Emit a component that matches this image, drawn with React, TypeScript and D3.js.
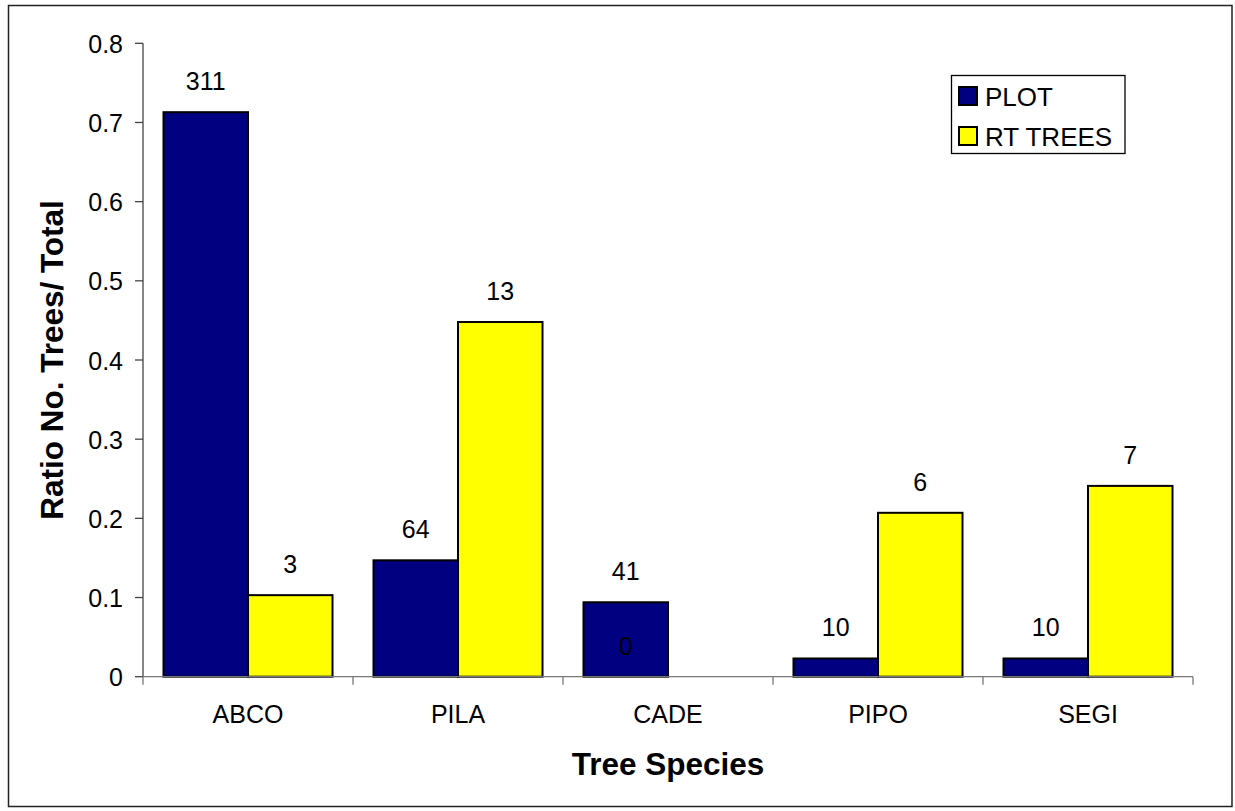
import * as d3 from 'd3'

const W = 1235
const H = 811
const FONT = "'Liberation Sans', Arial, sans-serif"

const categories = ['ABCO', 'PILA', 'CADE', 'PIPO', 'SEGI']
const seriesNames = ['PLOT', 'RT TREES']
const plotValues = [0.713, 0.147, 0.094, 0.023, 0.023]
const rtValues = [0.103, 0.448, 0, 0.207, 0.241]
const plotCounts = ['311', '64', '41', '10', '10']
const rtCounts = ['3', '13', '0', '6', '7']
const yTicks = [0, 0.1, 0.2, 0.3, 0.4, 0.5, 0.6, 0.7, 0.8]
const colors = ['#000080', '#FFFF00']

const LEFT = 143
const RIGHT = 1193
const TOP = 43.3
const BOTTOM = 676.7
const TICK = 8

export default function App() {
  const x0 = d3.scaleBand<string>().domain(categories).range([LEFT, RIGHT]).padding(0)
  const x1 = d3.scaleBand<string>()
    .domain(seriesNames)
    .range([20.5, x0.bandwidth() - 20.5])
    .padding(0)
  const y = d3.scaleLinear().domain([0, 0.8]).range([BOTTOM, TOP])

  const series = [
    { name: seriesNames[0], values: plotValues, labels: plotCounts, color: colors[0] },
    { name: seriesNames[1], values: rtValues, labels: rtCounts, color: colors[1] },
  ]

  const boundaries = categories.map(c => x0(c)!).concat([RIGHT])

  return (
    <svg width={W} height={H} style={{ position: 'absolute', left: 0, top: 0, background: '#fff' }}
      fontFamily={FONT}>
      <rect x={8.5} y={5.5} width={1223.5} height={801} fill="#fff" stroke="#222" strokeWidth={1.5} />

      {/* bars */}
      {series.map(s => (
        <g key={s.name}>
          {categories.map((c, i) => {
            const bx = x0(c)! + x1(s.name)!
            const by = y(s.values[i])
            const h = BOTTOM - by
            return h > 0 ? (
              <rect key={c} x={bx} y={by} width={x1.bandwidth()} height={h}
                fill={s.color} stroke="#000" strokeWidth={2} />
            ) : null
          })}
        </g>
      ))}

      {/* value labels */}
      {series.map((s, si) => (
        <g key={s.name + '-lbl'}>
          {categories.map((c, i) => {
            // zero-height label sits over the neighbouring bar in the reference
            const slot = s.values[i] === 0 && si > 0 ? seriesNames[si - 1] : s.name
            const cx = x0(c)! + x1(slot)! + x1.bandwidth() / 2
            return (
              <text key={c} x={cx} y={y(s.values[i]) - 22} textAnchor="middle"
                fontSize={25} fill="#000">{s.labels[i]}</text>
            )
          })}
        </g>
      ))}

      {/* y axis */}
      <line x1={LEFT} x2={LEFT} y1={TOP} y2={BOTTOM} stroke="#444" strokeWidth={1.3} />
      {yTicks.map(t => (
        <g key={t}>
          <line x1={LEFT - TICK} x2={LEFT} y1={y(t)} y2={y(t)} stroke="#444" strokeWidth={1.3} />
          <text x={LEFT - 20} y={y(t) + 9.5} textAnchor="end" fontSize={25} fill="#000">
            {t === 0 ? '0' : d3.format('.1f')(t)}
          </text>
        </g>
      ))}

      {/* x axis */}
      <line x1={LEFT} x2={RIGHT} y1={BOTTOM} y2={BOTTOM} stroke="#777" strokeWidth={1.3} />
      {boundaries.map((bx, i) => (
        <line key={i} x1={bx} x2={bx} y1={BOTTOM} y2={BOTTOM + TICK} stroke="#777" strokeWidth={1.3} />
      ))}
      {categories.map(c => (
        <text key={c} x={x0(c)! + x0.bandwidth() / 2} y={723} textAnchor="middle"
          fontSize={25} fill="#000">{c}</text>
      ))}

      {/* axis titles */}
      <text x={(LEFT + RIGHT) / 2} y={775} textAnchor="middle" fontSize={31.5}
        fontWeight="bold" fill="#000">Tree Species</text>
      <text transform={`translate(63, ${(TOP + BOTTOM) / 2}) rotate(-90)`} textAnchor="middle"
        fontSize={31.5} fontWeight="bold" fill="#000">Ratio No. Trees/ Total</text>

      {/* legend */}
      <rect x={951.5} y={75.5} width={173.5} height={78} fill="#fff" stroke="#000" strokeWidth={1.3} />
      {series.map((s, i) => (
        <g key={s.name + '-leg'} transform={`translate(959, ${87 + i * 40})`}>
          <rect x={0} y={0} width={18} height={18} fill={s.color} stroke="#000" strokeWidth={2} />
          <text x={26} y={18.5} fontSize={26} fill="#000">{s.name}</text>
        </g>
      ))}
    </svg>
  )
}
